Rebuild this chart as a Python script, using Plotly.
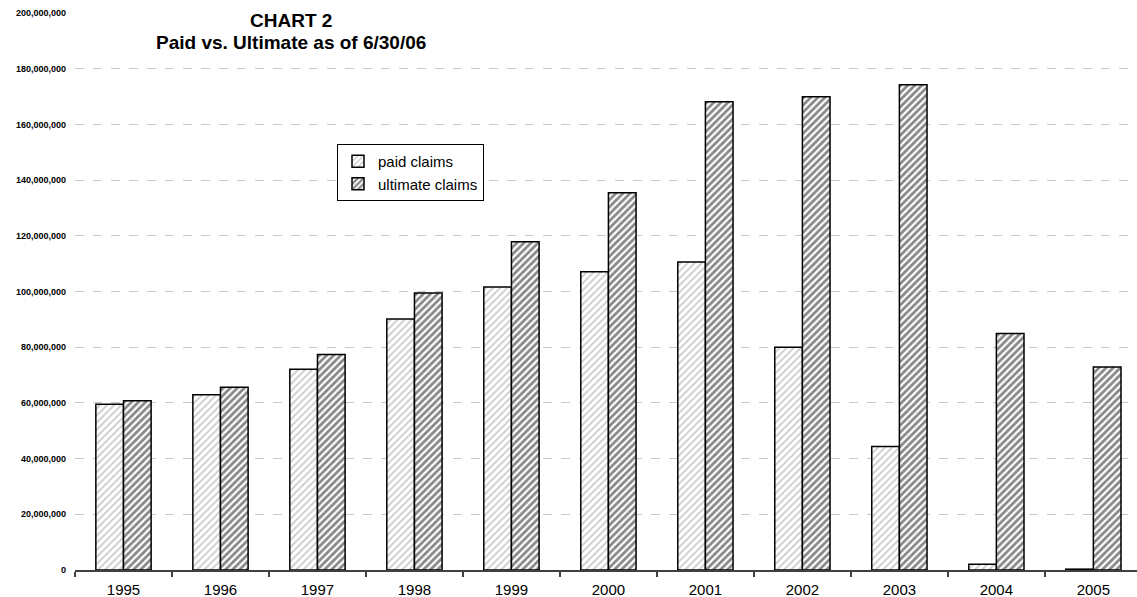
import plotly.graph_objects as go

years = ["1995", "1996", "1997", "1998", "1999", "2000", "2001", "2002", "2003", "2004", "2005"]
paid_claims = [59.5e6, 62.9e6, 72.1e6, 90.1e6, 101.6e6, 107.1e6, 110.6e6, 80.0e6, 44.3e6, 2.1e6, 0.3e6]
ultimate_claims = [60.8e6, 65.6e6, 77.4e6, 99.5e6, 117.9e6, 135.5e6, 168.1e6, 169.9e6, 174.2e6, 84.9e6, 72.9e6]
y_ticks = list(range(0, 200000001, 20000000))
y_tick_labels = [f"{v:,}" for v in y_ticks]

L, R, T, B = 75, 0, 13, 27
W, H = 1137, 597
plot_w = W - L - R
plot_h = H - T - B


def px_to_paper(px, py):
    return (px - L) / plot_w, (H - B - py) / plot_h


fig = go.Figure()
fig.add_trace(go.Bar(
    x=years, y=paid_claims, name="paid claims",
    marker=dict(color="white", line=dict(color="black", width=1.5),
                pattern=dict(shape="/", fgcolor="#999999", bgcolor="white", size=5, solidity=0.35)),
))
fig.add_trace(go.Bar(
    x=years, y=ultimate_claims, name="ultimate claims",
    marker=dict(color="white", line=dict(color="black", width=1.5),
                pattern=dict(shape="/", fgcolor="#111111", bgcolor="white", size=5, solidity=0.55)),
))

lx, ly = px_to_paper(337, 144)
fig.update_layout(
    width=W, height=H,
    margin=dict(l=L, r=R, t=T, b=B),
    paper_bgcolor="white", plot_bgcolor="white",
    barmode="group", bargap=0.43, bargroupgap=0,
    font=dict(family="Liberation Sans, Arial, sans-serif", color="black"),
    showlegend=True,
    legend=dict(x=lx, y=ly, xanchor="left", yanchor="top",
                bordercolor="black", borderwidth=1, bgcolor="white",
                font=dict(size=15), itemwidth=30, tracegroupgap=0),
)

tx, ty1 = px_to_paper(291, 20)
_, ty2 = px_to_paper(291, 42)
fig.add_annotation(text="<b>CHART 2</b>", x=tx, y=ty1, xref="paper", yref="paper",
                   showarrow=False, font=dict(size=19), xanchor="center", yanchor="middle")
fig.add_annotation(text="<b>Paid vs. Ultimate as of 6/30/06</b>", x=tx, y=ty2, xref="paper", yref="paper",
                   showarrow=False, font=dict(size=19), xanchor="center", yanchor="middle")

fig.update_xaxes(
    range=[-0.5, 10.45], showline=True, linecolor="#404040", linewidth=1.5,
    ticks="outside", tickson="boundaries", ticklen=5, tickcolor="#404040", tickwidth=1.5,
    tickfont=dict(size=15), showgrid=False, ticklabelstandoff=5,
)
fig.update_yaxes(
    range=[0, 200000000], tickvals=y_ticks, ticktext=y_tick_labels,
    tickfont=dict(size=9, weight="bold"), showline=False, zeroline=False,
    showgrid=True, gridcolor="#c8c8c8", griddash="dash", gridwidth=1,
    ticks="", ticklabelstandoff=8,
)

fig.write_html("out.html", config={"displayModeBar": False},
               post_script="document.body.style.margin='0';document.body.style.overflow='hidden';")
